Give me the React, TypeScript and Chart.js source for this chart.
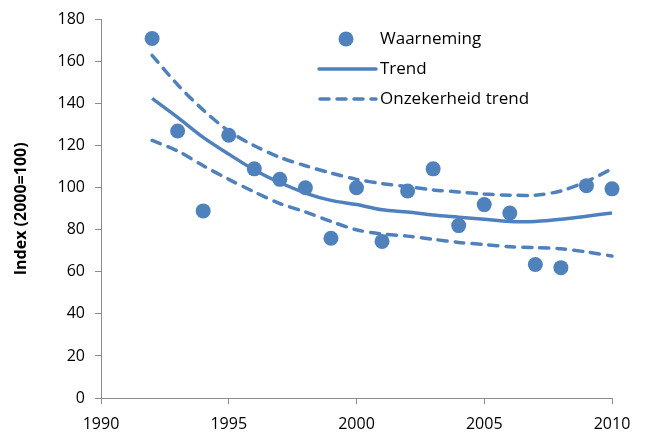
import React, { useEffect, useRef } from "react";
import { Chart, registerables } from "chart.js";

Chart.register(...registerables);

const years = [1992, 1993, 1994, 1995, 1996, 1997, 1998, 1999, 2000, 2001, 2002, 2003, 2004, 2005, 2006, 2007, 2008, 2009, 2010];
const observed = [171, 127, 89, 125, 109, 104, 100, 76, 100, 74.5, 98.5, 109, 82, 92, 88, 63.5, 62, 101, 99.5];
const trend = [142.5, 133.5, 124, 116, 108.5, 102.5, 97.5, 94, 92, 89.5, 88.5, 87, 86, 85, 84, 84, 85, 86.5, 88];
const upper = [163, 149, 137, 127, 120, 114.5, 110.5, 107, 104, 102, 100.5, 99, 98, 97, 96.5, 96.5, 98.5, 103, 109];
const lower = [122.5, 117.5, 110.5, 104, 98, 92.5, 88.5, 84, 80, 78, 77, 75.5, 74, 73, 72, 71.5, 71, 69.5, 67.5];
const xTicks = [1990, 1995, 2000, 2005, 2010];
const legendLabels = ["Waarneming", "Trend", "Onzekerheid trend"];

const BLUE = "#4F81BD";
const FONT = "'Open Sans', sans-serif";

const toXY = (vals: number[]) => years.map((y, i) => ({ x: y, y: vals[i] }));

const legendPlugin = {
  id: "customLegend",
  afterDraw(chart: any) {
    const ctx = chart.ctx;
    ctx.save();
    const rows = [39, 69, 99];
    ctx.fillStyle = BLUE;
    ctx.beginPath();
    ctx.arc(346, rows[0], 7.5, 0, Math.PI * 2);
    ctx.fill();
    ctx.strokeStyle = BLUE;
    ctx.lineWidth = 3.5;
    ctx.lineCap = "round";
    ctx.beginPath();
    ctx.moveTo(319, rows[1]);
    ctx.lineTo(376, rows[1]);
    ctx.stroke();
    ctx.setLineDash([9, 8]);
    ctx.beginPath();
    ctx.moveTo(320, rows[2]);
    ctx.lineTo(376, rows[2]);
    ctx.stroke();
    ctx.setLineDash([]);
    ctx.fillStyle = "#000";
    ctx.font = "17px " + FONT;
    ctx.textBaseline = "middle";
    ctx.textAlign = "left";
    legendLabels.forEach((t, i) => ctx.fillText(t, 380, rows[i]));
    ctx.restore();
  },
};

export default function App() {
  const ref = useRef<HTMLCanvasElement>(null);
  useEffect(() => {
    document.body.style.margin = "0";
    const chart = new Chart(ref.current as HTMLCanvasElement, {
      type: "scatter",
      data: {
        datasets: [
          {
            label: "Onzekerheid boven",
            type: "line",
            data: toXY(upper),
            borderColor: BLUE,
            borderWidth: 3.5,
            borderDash: [9, 8],
            borderCapStyle: "round",
            pointRadius: 0,
            tension: 0.3,
            fill: false,
          } as any,
          {
            label: "Onzekerheid onder",
            type: "line",
            data: toXY(lower),
            borderColor: BLUE,
            borderWidth: 3.5,
            borderDash: [9, 8],
            borderCapStyle: "round",
            pointRadius: 0,
            tension: 0.3,
            fill: false,
          } as any,
          {
            label: "Trend",
            type: "line",
            data: toXY(trend),
            borderColor: BLUE,
            borderWidth: 3.5,
            pointRadius: 0,
            tension: 0.3,
            fill: false,
          } as any,
          {
            label: "Waarneming",
            data: toXY(observed),
            backgroundColor: BLUE,
            borderColor: BLUE,
            pointRadius: 7.5,
            borderWidth: 0,
          },
        ],
      },
      options: {
        animation: false,
        responsive: false,
        clip: false as any,
        layout: { padding: { top: 16, right: 33, left: 0, bottom: 0 } },
        plugins: { legend: { display: false }, tooltip: { enabled: false } },
        scales: {
          x: {
            type: "linear",
            min: 1990,
            max: 2010,
            afterBuildTicks: (s: any) => {
              s.ticks = xTicks.map((v) => ({ value: v }));
            },
            afterFit: (s: any) => {
              s.height = 43;
            },
            grid: { drawOnChartArea: false, drawTicks: true, tickLength: 6, color: "#8c8c8c" },
            border: { color: "#8c8c8c", width: 1 },
            ticks: {
              color: "#000",
              font: { family: FONT, size: 16 },
              padding: 11,
              maxRotation: 0,
              callback: (v: any) => String(v),
            },
          },
          y: {
            min: 0,
            max: 180,
            ticks: { stepSize: 20, color: "#000", font: { family: FONT, size: 16 }, padding: 10 },
            afterFit: (s: any) => {
              s.width = 101;
            },
            grid: { drawOnChartArea: false, drawTicks: true, tickLength: 6, color: "#8c8c8c" },
            border: { color: "#8c8c8c", width: 1 },
            title: {
              display: true,
              text: "Index (2000=100)",
              color: "#000",
              font: { family: FONT, size: 16, weight: "bold" },
              padding: { top: 12, bottom: 0 },
            },
          },
        },
      },
      plugins: [legendPlugin],
    });
    return () => chart.destroy();
  }, []);
  return (
    <div style={{ width: 645, height: 441 }}>
      <canvas ref={ref} width={645} height={441} style={{ display: "block" }} />
    </div>
  );
}
